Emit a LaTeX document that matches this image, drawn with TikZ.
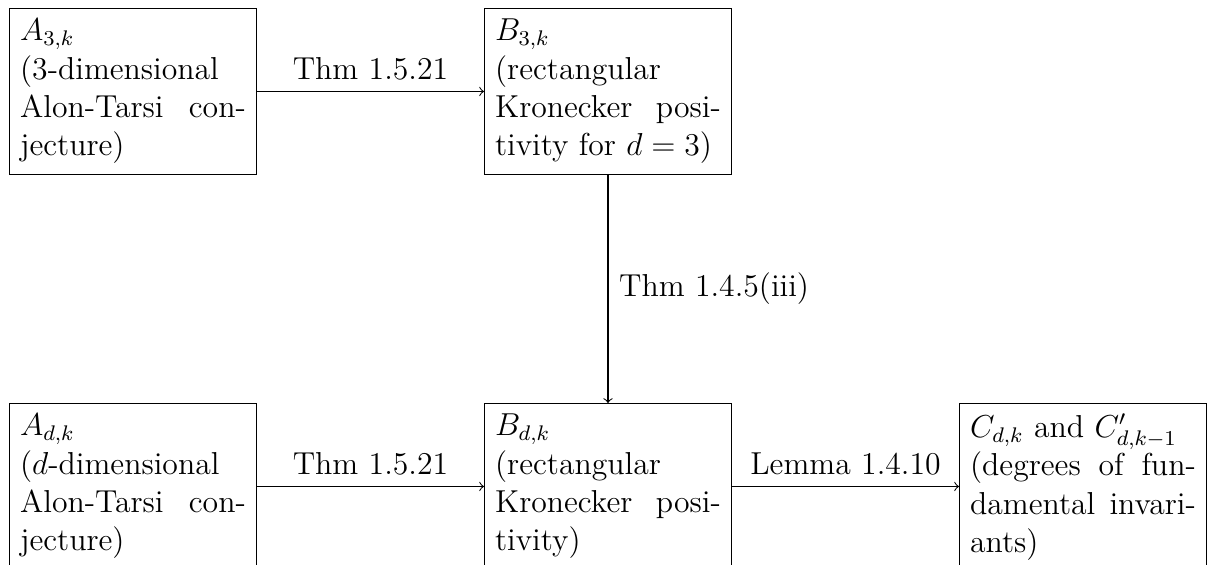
\documentclass[tikz,border=0pt,12pt]{standalone}
\begin{document}
\begin{tikzpicture}[x=0.37807pt,y=-0.37807pt,
  box/.style={draw, text width=3cm, align=justify, inner sep=0.3333em, anchor=north west},
  lbl/.style={inner sep=0.3333em},
  >=to]
\useasboundingbox (0,0) rectangle (1218,565);
\clip (0,0) rectangle (1218,565);
\node[box] (A3) at (9,8) {$A_{3,k}$\\ (3-dimensional Alon-Tarsi con-\linebreak jecture)};
\node[box] (B3) at (484,8) {$B_{3,k}$\\ (rectangular Kronecker positivity for $d=3$)};
\node[box] (Ad) at (9,403) {$A_{d,k}$\\ ($d$-dimensional Alon-Tarsi con-\linebreak jecture)};
\node[box] (Bd) at (484,403) {$B_{d,k}$\\ (rectangular Kronecker positivity)};
\node[box] (C) at (959,403) {$C_{d,k}$ and $C'_{d,k-1}$\\ (degrees of fundamental invariants)};
\draw[->] (A3.east) -- node[lbl, above] {Thm 1.5.21} (A3.east -| B3.west);
\draw[->] (B3) -- node[lbl, right] {Thm 1.4.5(iii)} (Bd);
\draw[->] (Ad.east) -- node[lbl, above] {Thm 1.5.21} (Ad.east -| Bd.west);
\draw[->] (Bd.east) -- node[lbl, above] {Lemma 1.4.10} (Bd.east -| C.west);
\end{tikzpicture}
\end{document}
